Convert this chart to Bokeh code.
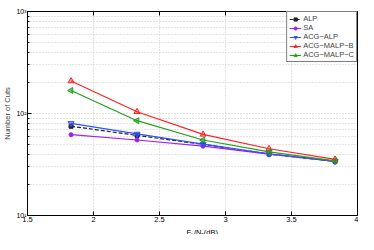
import numpy as np
from bokeh.plotting import figure
from bokeh.layouts import column
from bokeh.models import (FixedTicker, CustomJSTickFormatter, LinearAxis,
                          Legend, LegendItem, Range1d, CustomLabelingPolicy)
from bokeh.core.properties import value
from bokeh.embed import file_html
from bokeh.resources import INLINE

# ---- data ----
ebn0 = [1.83, 2.33, 2.83, 3.33, 3.83]
alp = [75, 61, 49.8, 40, 34]
sa = [62, 55, 47.8, 40, 34]
acg_alp = [80, 63, 50.1, 40.3, 34]
acg_malp_b = [208, 104, 62.4, 45.1, 35.5]
acg_malp_c = [168, 85, 55, 42, 34.3]
x_ticks = [1.5, 2, 2.5, 3, 3.5, 4]
y_ticks = [10, 100, 1000]
y_minor = [20, 30, 40, 50, 60, 70, 80, 90, 200, 300, 400, 500, 600, 700, 800, 900]
series_names = ["ALP", "SA", "ACG\u2212ALP", "ACG\u2212MALP\u2212B", "ACG\u2212MALP\u2212C"]
x_label_parts = ["E", "b", "/N", "0", " (dB)"]

FONT = "Liberation Sans"
W = 358
LEFT = 19

p = figure(width=W, height=225, output_backend="svg", toolbar_location=None,
           y_axis_type="log", x_range=Range1d(1.5, 4), y_range=Range1d(10, 1000),
           min_border_left=LEFT, min_border_top=1, min_border_right=1, min_border_bottom=10,
           background_fill_color="white", border_fill_color="white")
p.outline_line_color = "black"
p.outline_line_width = 1

xt = FixedTicker(ticks=x_ticks)
yt = FixedTicker(ticks=y_ticks, minor_ticks=y_minor)

# axes
p.xaxis.ticker = xt
p.yaxis.ticker = yt
p.xaxis.formatter = CustomJSTickFormatter(code="return tick.toString();")
p.yaxis.formatter = CustomJSTickFormatter(code="""
const sup = {'0':'\u2070','1':'\u00b9','2':'\u00b2','3':'\u00b3','4':'\u2074','5':'\u2075'};
const e = Math.round(Math.log10(tick));
return '10' + String(e).split('').map(c => sup[c]).join('');
""")
for ax in (p.xaxis, p.yaxis):
    ax.major_label_text_font = FONT
    ax.major_label_text_font_size = "7.5px"
    ax.major_label_text_color = "black"
    ax.major_tick_in = 4
    ax.major_tick_out = 0
    ax.minor_tick_in = 2
    ax.minor_tick_out = 0
    ax.axis_line_color = "black"
    ax.major_tick_line_color = "black"
    ax.minor_tick_line_color = "black"
    ax.major_label_standoff = 1
p.yaxis.major_label_text_font_size = "7px"
p.xaxis.minor_tick_line_color = None
p.yaxis.axis_label = "Number of Cuts"
p.yaxis.axis_label_text_font = FONT
p.yaxis.axis_label_text_font_size = "7.5px"
p.yaxis.axis_label_text_font_style = "normal"
p.yaxis.axis_label_standoff = 1

# mirrored top axis (ticks only, no labels)
hide = "for (const i of Array.from(indices)) indices.unset(i); return indices;"
top = LinearAxis(ticker=xt, major_label_policy=CustomLabelingPolicy(code=hide),
                 major_label_standoff=0, major_tick_in=4, major_tick_out=0,
                 minor_tick_line_color=None, axis_line_color="black")
p.add_layout(top, "above")

# grid
p.xgrid.ticker = xt
p.xgrid.grid_line_color = "#c8c8c8"
p.xgrid.grid_line_dash = "1 2"
p.ygrid.ticker = yt
p.ygrid.grid_line_color = "#c8c8c8"
p.ygrid.grid_line_dash = "1 2"
p.ygrid.minor_grid_line_color = "#c8c8c8"
p.ygrid.minor_grid_line_dash = "1 2"

# series
styles = [
    (alp, "#222222", "square", "4 2", 4, 1.0),
    (sa, "#a020f0", "circle", "solid", 4, 1.0),
    (acg_alp, "#3050ff", "inverted_triangle", "solid", 6, 0.6),
    (acg_malp_b, "#ff2020", "triangle", "solid", 6, 0.4),
    (acg_malp_c, "#20a020", "triangle", "solid", 6, 0.6),
]
items = []
for name, (vals, col, mk, dash, sz, fa) in zip(series_names, styles):
    ln = p.line(ebn0, vals, line_color=col, line_width=1.2, line_dash=dash)
    kw = {}
    if name.endswith("C"):
        kw["angle"] = np.pi / 2
    sc = p.scatter(ebn0, vals, marker=mk, size=sz, line_color=col, fill_color=col,
                   fill_alpha=fa, line_width=1, **kw)
    items.append(LegendItem(label=name, renderers=[ln, sc]))

legend = Legend(items=items, location="top_right", margin=0, padding=2, spacing=0,
                label_text_font=FONT, label_text_font_size="7.5px", label_height=8,
                glyph_height=8, glyph_width=12, label_standoff=2,
                border_line_color="black", border_line_width=1,
                background_fill_color="white", background_fill_alpha=1)
p.add_layout(legend, "center")

# x axis label strip: E_b/N_0 (dB) with subscripts
H2 = 9
q = figure(width=W, height=H2, output_backend="svg", toolbar_location=None,
           x_range=Range1d(0, W), y_range=Range1d(0, H2),
           min_border=0, min_border_left=0, min_border_right=0,
           min_border_top=0, min_border_bottom=0)
q.axis.visible = False
q.grid.visible = False
q.outline_line_color = None
cx = (LEFT + W - 1) / 2 + 2
offs = [-17.4, -12.4, -9.4, -1.9, 1.2]
sizes = ["7.5px", "5.5px", "7.5px", "5.5px", "7.5px"]
ys = [5.3, 2.8, 5.3, 2.8, 5.3]
for txt, o, fs, yy in zip(x_label_parts, offs, sizes, ys):
    q.text(x=[cx + o], y=[yy], text=[txt], text_font=value(FONT), text_font_size=value(fs),
           text_align="left", text_baseline="middle", text_color="black")

layout = column(p, q, spacing=0)
open("out.html", "w").write(file_html(layout, INLINE))
